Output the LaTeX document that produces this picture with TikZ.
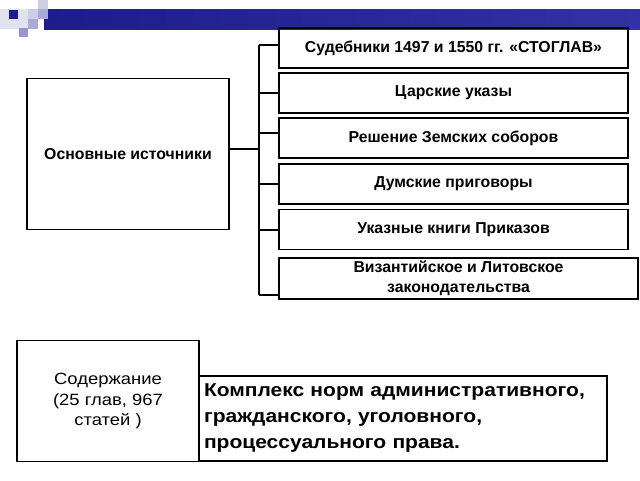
\documentclass[tikz,border=0pt]{standalone}
\usepackage{fontspec}
\setmainfont{Liberation Sans}
\newfontfamily\widesans[FakeStretch=1.13]{Liberation Sans}
\definecolor{navy}{RGB}{28,28,140}
\definecolor{navylight}{RGB}{50,50,165}
\definecolor{lav1}{RGB}{205,205,228}
\definecolor{lav2}{RGB}{170,170,215}
\definecolor{lav3}{RGB}{150,150,205}
\begin{document}
\begin{tikzpicture}[x=1pt,y=-1pt,
  box/.style={draw=black, line width=1.8pt, inner sep=0pt, align=center},
  conn/.style={draw=black, line width=1.8pt},
  topfont/.style={font=\fontsize{15.8}{20}\selectfont\bfseries}]
\useasboundingbox (0,0) rectangle (640,480);
% banner
\shade[left color=navy, right color=navylight] (44,9) rectangle (640,29);
\fill[lav1!60] (0,9) rectangle (28,29);
\fill[navy] (9,10) rectangle (18,19);
\fill[lav1] (38,0) rectangle (48,9);
\fill[lav1] (28,9) rectangle (38,19);
\fill[lav2] (38,9) rectangle (48,19);
\fill[lav2] (28,19) rectangle (38,29);
\fill[lav3] (19,28) rectangle (28,37);
% main box
\node[box, topfont, minimum width=202pt, minimum height=151pt] (m) at (128,154) {Основные источники};
% right boxes
\node[box, topfont, minimum width=349pt, minimum height=40pt] (b1) at (453.5,48) {Судебники 1497 и 1550 гг. «СТОГЛАВ»};
\node[box, topfont, minimum width=349pt, minimum height=40pt] (b2) at (453.5,93) {Царские указы};
\node[box, topfont, minimum width=349pt, minimum height=40pt] (b3) at (453.5,138) {Решение Земских соборов};
\node[box, topfont, minimum width=349pt, minimum height=40pt] (b4) at (453.5,184) {Думские приговоры};
\node[box, topfont, minimum width=349pt, minimum height=40pt] (b5) at (453.5,229.5) {Указные книги Приказов};
\node[box, topfont, minimum width=359pt, minimum height=41pt] (b6) at (458.5,278.5) {Византийское и Литовское\\законодательства};
% connectors
\coordinate (hub) at (259,149);
\coordinate (t1) at (259,45);
\coordinate (t2) at (259,93);
\coordinate (t3) at (259,133);
\coordinate (t4) at (259,184);
\coordinate (t5) at (259,230);
\coordinate (t6) at (259,295);
\draw[conn] (t1) -- (t6);
\draw[conn] (m.east|-hub) -- (hub);
\draw[conn] (t1) -- (b1.west|-t1);
\draw[conn] (t2) -- (b2.west|-t2);
\draw[conn] (t3) -- (b3.west|-t3);
\draw[conn] (t4) -- (b4.west|-t4);
\draw[conn] (t5) -- (b5.west|-t5);
\draw[conn] (t6) -- (b6.west|-t6);
% bottom
\node[box, font=\widesans\fontsize{16.3}{20.5}\selectfont, minimum width=182pt, minimum height=121pt] (s) at (108,401) {Содержание\\(25 глав, 967\\статей )};
\node[box, font=\widesans\fontsize{18.6}{26}\selectfont\bfseries, minimum width=408pt, minimum height=85pt, text width=398pt, align=left] (k) at (403,418.5) {Комплекс норм административного,\\гражданского, уголовного,\\процессуального права.};
\end{tikzpicture}
\end{document}
